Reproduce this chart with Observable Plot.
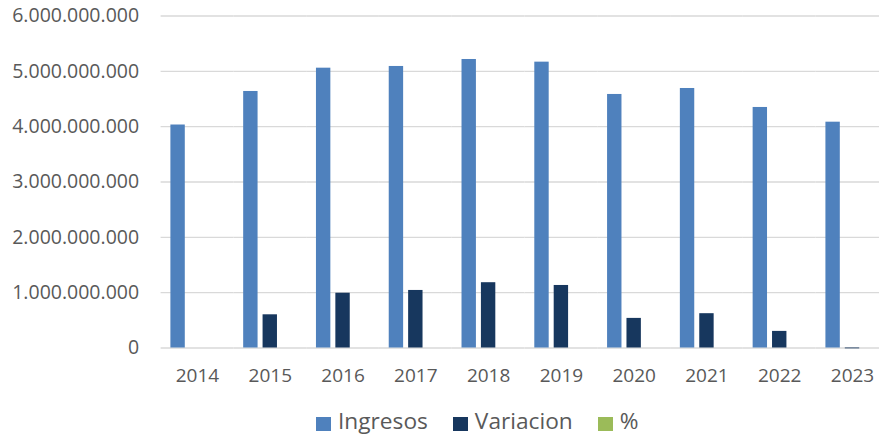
<!DOCTYPE html>
<html>
<head>
<meta charset="utf-8">
<script src="https://cdn.jsdelivr.net/npm/d3@7"></script>
<script src="https://cdn.jsdelivr.net/npm/@observablehq/plot@0.6"></script>
<style>
  html, body { margin: 0; padding: 0; background: #fff; }
  #chart { width: 879px; height: 436px; font-family: "Open Sans", sans-serif; color: #595959; }
  .legend { height: 40px; box-sizing: border-box; padding-top: 9px; padding-left: 316px; display: flex; align-items: flex-start; font-size: 22.7px; color: #595959; white-space: nowrap; }
  .legend .item { display: flex; align-items: center; margin-right: 25px; height: 31px; }
  .legend .sw { width: 15px; height: 14px; margin-right: 7px; margin-top: 6px; }
</style>
</head>
<body>
<div id="chart"></div>
<script>
const years = ["2014","2015","2016","2017","2018","2019","2020","2021","2022","2023"];
const series = ["Ingresos", "Variacion", "%"];
const ingresos = [4030000000, 4636000000, 5057000000, 5088000000, 5214000000, 5166000000, 4582000000, 4690000000, 4347000000, 4081000000];
const variacion = [0, 600000000, 990000000, 1040000000, 1180000000, 1130000000, 535000000, 620000000, 300000000, -15000000];
const porcentaje = [0, 0.15, 0.25, 0.26, 0.29, 0.28, 0.13, 0.16, 0.08, 0.0];
const yTicks = [0, 1000000000, 2000000000, 3000000000, 4000000000, 5000000000, 6000000000];
const colors = ["#4f81bd", "#17375e", "#9bbb59"];

const rows = [];
years.forEach((y, i) => {
  rows.push({year: y, serie: "Ingresos", value: ingresos[i]});
  rows.push({year: y, serie: "Variacion", value: variacion[i]});
  rows.push({year: y, serie: "%", value: porcentaje[i]});
});

const locale = d3.formatLocale({decimal: ",", thousands: ".", grouping: [3], currency: ["", ""]});
const fmt = locale.format(",");

const plot = Plot.plot({
  width: 879,
  height: 396,
  marginLeft: 160.6,
  marginRight: -9.4,
  marginTop: 15.5,
  marginBottom: 48.5,
  style: {fontFamily: "Open Sans, sans-serif", fontSize: "19px", color: "#595959", background: "#fff", overflow: "visible"},
  fx: {domain: years, padding: 0, round: false, label: null},
  x: {domain: series, paddingInner: 0.258, paddingOuter: 0.505, round: false, axis: null},
  y: {domain: [0, 6000000000], label: null},
  color: {domain: series, range: colors},
  marks: [
    Plot.ruleY(yTicks, {stroke: "#d9d9d9", strokeWidth: 1.3}),
    Plot.barY(rows, {fx: "year", x: "serie", y: "value", fill: "serie"}),
    Plot.axisY(yTicks, {tickSize: 0, tickPadding: 22, tickFormat: fmt, fill: "#595959", fontSize: "19.5px", label: null}),
    Plot.axisFx({anchor: "bottom", tickSize: 0, tickPadding: 20, fill: "#595959", label: null})
  ]
});

const chart = document.getElementById("chart");
chart.appendChild(plot);

const legend = document.createElement("div");
legend.className = "legend";
series.forEach((s, i) => {
  const item = document.createElement("div");
  item.className = "item";
  const sw = document.createElement("span");
  sw.className = "sw";
  sw.style.background = colors[i];
  const t = document.createElement("span");
  t.textContent = s;
  item.appendChild(sw);
  item.appendChild(t);
  legend.appendChild(item);
});
chart.appendChild(legend);
</script>
</body>
</html>
